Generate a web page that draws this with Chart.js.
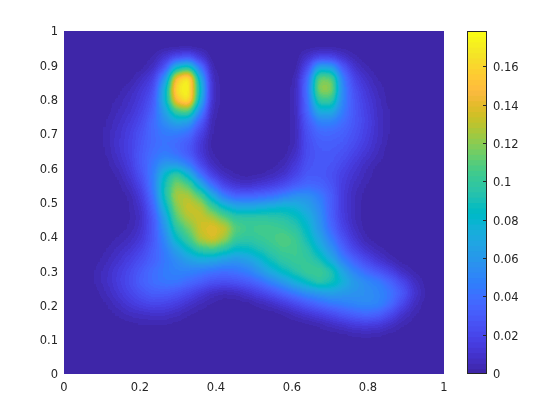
<!DOCTYPE html>
<html>
<head>
<meta charset="utf-8">
<script src="https://cdn.jsdelivr.net/npm/chart.js@4/dist/chart.umd.min.js"></script>
<style>
html,body{margin:0;padding:0;background:#fff}
#wrap{position:relative;width:560px;height:420px}
canvas{position:absolute;left:0;top:0}
</style>
</head>
<body>
<div id="wrap"><canvas id="map" width="560" height="420"></canvas><canvas id="bar" width="560" height="420"></canvas></div>
<script>
const xTicks=[0,0.2,0.4,0.6,0.8,1];
const yTicks=[0,0.1,0.2,0.3,0.4,0.5,0.6,0.7,0.8,0.9,1];
const barTicks=[0,0.02,0.04,0.06,0.08,0.1,0.12,0.14,0.16];
const barMax=0.179;
// cell values x 1000, top row first
const cells=[
[0,0,0,0,0,0,0,0,0,0,0,0,0,0,0,0,0,0,0,0,0,0,0,0,0,0,0,0,0,0,0,0],
[0,0,0,0,0,0,0,0,0,0,0,0,0,0,0,0,0,0,0,0,0,0,0,0,0,0,0,0,0,0,0,0],
[0,0,0,0,0,0,0,2,11,22,27,12,0,0,0,0,0,0,0,0,9,18,18,10,3,0,0,0,0,0,0,0],
[0,0,0,0,0,0,1,7,26,84,98,44,3,0,0,0,0,0,0,0,22,72,68,30,10,3,0,0,0,0,0,0],
[0,0,0,0,0,1,7,16,56,155,178,74,6,0,0,0,0,0,0,3,36,118,116,46,18,8,2,0,0,0,0,0],
[0,0,0,0,1,5,12,22,76,170,179,84,8,0,0,0,0,0,0,4,40,124,124,50,24,12,4,1,0,0,0,0],
[0,0,0,1,3,8,15,28,78,155,175,76,7,0,0,0,0,0,0,4,38,104,104,50,27,15,6,1,0,0,0,0],
[0,0,0,1,5,10,18,32,66,108,115,52,5,0,0,0,0,0,0,4,36,76,76,46,28,17,7,2,0,0,0,0],
[0,0,0,2,7,13,22,38,56,70,66,32,3,0,0,0,0,0,0,4,30,50,50,40,28,18,8,2,0,0,0,0],
[0,0,0,3,9,16,26,38,46,48,42,20,2,0,0,0,0,0,0,4,26,38,38,34,26,17,8,2,0,0,0,0],
[0,0,0,3,10,17,28,38,42,38,30,13,1,0,0,0,0,0,0,5,24,32,32,30,23,15,7,1,0,0,0,0],
[0,0,0,2,9,17,30,40,46,40,30,13,2,0,0,0,0,0,1,8,24,30,30,26,18,11,5,0,0,0,0,0],
[0,0,0,1,6,15,30,44,62,60,46,22,6,1,0,0,0,1,4,13,26,30,28,21,13,6,2,0,0,0,0,0],
[0,0,0,0,3,11,26,46,84,106,80,42,17,6,2,1,2,5,10,20,30,30,25,17,10,4,0,0,0,0,0,0],
[0,0,0,0,1,7,20,46,92,122,112,76,42,20,11,10,13,17,23,32,38,36,28,15,7,2,0,0,0,0,0,0],
[0,0,0,0,0,3,14,40,92,130,130,112,76,48,36,36,38,42,50,58,58,48,32,14,5,1,0,0,0,0,0,0],
[0,0,0,0,0,2,10,34,80,122,136,132,106,84,72,70,74,78,82,78,68,54,32,14,5,0,0,0,0,0,0,0],
[0,0,0,0,0,2,8,28,66,112,130,136,130,114,100,100,100,98,96,90,78,58,34,15,5,0,0,0,0,0,0,0],
[0,0,0,0,1,3,10,28,58,98,116,136,144,136,110,104,106,106,104,98,84,62,38,19,7,1,0,0,0,0,0,0],
[0,0,0,1,3,6,13,28,52,84,104,130,140,126,102,98,102,106,112,106,90,70,48,26,11,3,0,0,0,0,0,0],
[0,0,1,2,6,11,19,32,46,66,84,100,104,94,82,84,92,100,106,106,98,80,60,36,20,10,4,1,0,0,0,0],
[0,0,1,4,10,17,25,34,44,54,64,70,68,62,58,64,76,90,100,104,102,94,74,50,34,22,12,5,1,0,0,0],
[0,0,2,7,14,22,31,40,46,50,50,46,42,40,42,48,60,74,86,96,106,106,96,68,50,38,28,18,7,2,0,0],
[0,0,2,7,15,23,33,40,44,44,38,32,26,24,26,30,38,50,62,76,88,100,92,78,62,54,48,36,22,8,1,0],
[0,0,1,5,12,20,27,32,32,28,22,14,8,5,6,12,18,26,36,46,56,62,66,62,58,56,52,44,30,12,2,0],
[0,0,0,2,7,13,18,21,20,16,10,5,2,0,0,1,4,8,14,22,30,38,44,48,52,54,52,40,22,7,1,0],
[0,0,0,1,3,6,8,9,9,6,3,1,0,0,0,0,0,0,2,6,11,16,22,28,34,38,34,22,10,3,0,0],
[0,0,0,0,0,1,2,2,2,1,0,0,0,0,0,0,0,0,0,0,1,3,6,10,14,15,13,8,3,1,0,0],
[0,0,0,0,0,0,0,0,0,0,0,0,0,0,0,0,0,0,0,0,0,0,0,1,2,3,2,1,0,0,0,0],
[0,0,0,0,0,0,0,0,0,0,0,0,0,0,0,0,0,0,0,0,0,0,0,0,0,0,0,0,0,0,0,0],
[0,0,0,0,0,0,0,0,0,0,0,0,0,0,0,0,0,0,0,0,0,0,0,0,0,0,0,0,0,0,0,0],
[0,0,0,0,0,0,0,0,0,0,0,0,0,0,0,0,0,0,0,0,0,0,0,0,0,0,0,0,0,0,0,0]
];
const parula=[[.2422,.1504,.6603],[.2504,.165,.7076],[.2578,.1818,.7511],[.2647,.1978,.7952],[.2706,.2147,.8364],[.2751,.2342,.871],[.2783,.2559,.8991],[.2803,.2782,.9221],[.2813,.3006,.9414],[.281,.3228,.9579],[.2795,.3447,.9717],[.276,.3667,.9829],[.2699,.3892,.9906],[.2602,.4123,.9952],[.244,.4358,.9988],[.2206,.4603,.9973],[.1963,.4847,.9892],[.1834,.5074,.9798],[.1786,.5289,.9682],[.1764,.5499,.952],[.1687,.5703,.9359],[.154,.5902,.9218],[.146,.6091,.9079],[.138,.6276,.8973],[.1248,.6459,.8883],[.1113,.6635,.8763],[.0952,.6798,.8598],[.0689,.6948,.8394],[.0297,.7082,.8163],[.0036,.7203,.7917],[.0067,.7312,.766],[.0433,.7411,.7394],[.0964,.75,.712],[.1408,.7584,.6842],[.1717,.767,.6554],[.1938,.7758,.6251],[.2161,.7843,.5923],[.247,.7918,.5567],[.2906,.7973,.5188],[.3406,.8008,.4789],[.3909,.8029,.4354],[.4456,.8024,.3909],[.5044,.7993,.348],[.5616,.7942,.3045],[.6174,.7876,.2612],[.672,.7793,.2227],[.7242,.7698,.191],[.7738,.7598,.1646],[.8203,.7498,.1535],[.8634,.7406,.1596],[.9035,.733,.1774],[.9393,.7288,.21],[.9728,.7298,.2394],[.9956,.7434,.2371],[.997,.7659,.2199],[.9952,.7893,.2028],[.9892,.8136,.1885],[.9786,.8386,.1766],[.9676,.8639,.1643],[.961,.889,.1537],[.9597,.9135,.1423],[.9628,.9373,.1265],[.9691,.9606,.1064],[.9769,.9839,.0805]];
const rgb=c=>'rgb('+c.map(v=>Math.round(v*255)).join(',')+')';
const ink='#262626';
const tickFont={family:'"DejaVu Sans"',size:11.5};
const fmt=v=>String(+(+v).toFixed(2));

// Cells are drawn as grey levels proportional to value, smoothed, then mapped
// through the 64-step colormap (the look of interpolated shading).
const points=[];
cells.forEach((row,r)=>row.forEach((v,c)=>points.push({x:(c+.5)/row.length,y:1-(r+.5)/cells.length,v:v/1000})));
const grey=v=>{const g=Math.min(255,Math.round(v/barMax*255));return 'rgb('+g+','+g+','+g+')';};
const shading={
  id:'shading',
  beforeDatasetsDraw(chart){
    const a=chart.chartArea,ctx=chart.ctx;
    ctx.save();ctx.fillStyle='#000';ctx.fillRect(a.left,a.top,a.width,a.height);ctx.restore();
  },
  afterDatasetsDraw(chart){
    const a=chart.chartArea,ctx=chart.ctx,cv=chart.canvas;
    ctx.save();
    ctx.beginPath();ctx.rect(a.left,a.top,a.width,a.height);ctx.clip();
    ctx.filter='blur(4.2px)';
    ctx.drawImage(cv,a.left,a.top,a.width,a.height,a.left,a.top,a.width,a.height);
    ctx.restore();
    const img=ctx.getImageData(a.left,a.top,a.width,a.height),d=img.data;
    for(let i=0;i<d.length;i+=4){
      const c=parula[Math.min(63,d[i]>>2)];
      d[i]=c[0]*255;d[i+1]=c[1]*255;d[i+2]=c[2]*255;d[i+3]=255;
    }
    ctx.putImageData(img,a.left,a.top);
  }
};
new Chart(document.getElementById('map'),{
  type:'scatter',
  data:{datasets:[{data:points,pointStyle:'rect',pointRadius:8.6,pointBorderWidth:0,
    pointBackgroundColor:points.map(p=>grey(p.v)),pointHoverRadius:8.6}]},
  options:{
    responsive:false,animation:false,events:[],
    layout:{padding:{left:0,top:31,right:116,bottom:0}},
    plugins:{legend:{display:false},tooltip:{enabled:false}},
    scales:{
      x:{type:'linear',min:0,max:1,afterBuildTicks:s=>{s.ticks=xTicks.map(value=>({value}));},
        afterFit:s=>{s.height=46;},border:{display:false},grid:{display:false,drawTicks:false},
        ticks:{font:tickFont,color:ink,padding:7,maxRotation:0,autoSkip:false,callback:fmt}},
      y:{type:'linear',min:0,max:1,afterBuildTicks:s=>{s.ticks=yTicks.map(value=>({value}));},
        afterFit:s=>{s.width=64;},border:{display:false},grid:{display:false,drawTicks:false},
        ticks:{font:tickFont,color:ink,padding:6,labelOffset:1.5,autoSkip:false,callback:fmt}}
    }
  },
  plugins:[shading]
});

const segs=parula.map((c,i)=>({x:.5,y:[i*barMax/64,(i+1)*barMax/64]}));
const frame={
  id:'frame',
  afterDraw(chart){
    const a=chart.chartArea,ctx=chart.ctx,s=chart.scales.y;
    ctx.save();ctx.strokeStyle=ink;ctx.lineWidth=1;
    ctx.strokeRect(a.left+.5,a.top+.5,a.width-1,a.height-1);
    ctx.beginPath();
    barTicks.forEach(t=>{const y=Math.round(s.getPixelForValue(t))-.5;
      if(t>0){ctx.moveTo(a.right-4,y);ctx.lineTo(a.right,y);}});
    ctx.stroke();ctx.restore();
  }
};
new Chart(document.getElementById('bar'),{
  type:'bar',
  data:{datasets:[{data:segs,backgroundColor:parula.map(rgb),borderWidth:0,barThickness:20,inflateAmount:0.6}]},
  options:{
    responsive:false,animation:false,events:[],
    layout:{padding:{left:467,top:31,right:0,bottom:46}},
    plugins:{legend:{display:false},tooltip:{enabled:false}},
    scales:{
      x:{type:'linear',min:0,max:1,display:false},
      y:{type:'linear',min:0,max:barMax,position:'right',
        afterBuildTicks:s=>{s.ticks=barTicks.map(value=>({value}));},
        afterFit:s=>{s.width=73;},border:{display:false},grid:{display:false,drawTicks:false},
        ticks:{font:tickFont,color:ink,padding:6,labelOffset:1,autoSkip:false,callback:fmt}}
    }
  },
  plugins:[frame]
});
</script>
</body>
</html>
